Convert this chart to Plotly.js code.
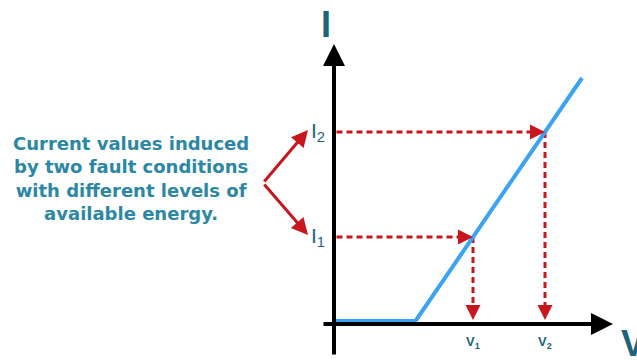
<!DOCTYPE html>
<html><head><meta charset="utf-8">
<script src="https://cdn.plot.ly/plotly-3.0.1.min.js"></script>
<style>html,body{margin:0;padding:0;background:#fff}#chart{width:637px;height:360px}</style>
</head><body><div id="chart"></div>
<script>
// Characteristic curve (voltage V vs current I), arbitrary units
const curveV = [0, 1.63, 4.96];
const curveI = [0.06, 0.06, 4.92];
// Two fault operating points
const pointLabels = ["1", "2"];
const faultV = [2.78, 4.22];
const faultI = [1.74, 3.84];
const caption = "Current values induced<br>by two fault conditions<br>with different levels of<br>available energy.";
const yAxisLabel = "I";
const xAxisLabel = "V";

const red = "#c8161d", teal = "#2b87a3", dark = "#1d6478";
const traces = [{
  x: curveV, y: curveI, mode: "lines", type: "scatter",
  line: {color: "#3aa3f2", width: 4}, hoverinfo: "skip"
}];
const shapes = [];
const annotations = [];
// axes with arrows
annotations.push({x: 0, y: 5.6, ax: 0, ay: -0.64, xref: "x", yref: "y", axref: "x", ayref: "y",
  showarrow: true, arrowhead: 2, arrowsize: 1.1, arrowwidth: 4, arrowcolor: "#000", text: ""});
annotations.push({x: 5.58, y: 0, ax: -0.24, ay: 0, xref: "x", yref: "y", axref: "x", ayref: "y",
  showarrow: true, arrowhead: 2, arrowsize: 1.1, arrowwidth: 4, arrowcolor: "#000", text: ""});
annotations.push({x: -0.16, y: 6.0, xref: "x", yref: "y", showarrow: false, text: "<b>" + yAxisLabel + "</b>",
  font: {family: "Liberation Sans, Arial", size: 36, color: dark}});
annotations.push({x: 5.97, y: -0.38, xref: "x", yref: "y", showarrow: false, text: "<b>" + xAxisLabel + "</b>",
  font: {family: "Liberation Sans, Arial", size: 36, color: dark}});
faultV.forEach((v, i) => {
  const c = faultI[i];
  shapes.push({type: "line", xref: "x", yref: "y", x0: 0.05, y0: c, x1: v - 0.2, y1: c,
    line: {color: red, width: 3, dash: "6px,4px"}, layer: "below"});
  shapes.push({type: "line", xref: "x", yref: "y", x0: v, y0: c, x1: v, y1: 0.3,
    line: {color: red, width: 3, dash: "6px,4px"}, layer: "below"});
  annotations.push({x: v, y: c, xref: "x", yref: "y", ax: -14, ay: 0, showarrow: true,
    arrowhead: 2, arrowsize: 1.2, arrowwidth: 2.5, arrowcolor: red, text: ""});
  annotations.push({x: v, y: 0.08, xref: "x", yref: "y", ax: 0, ay: -14, showarrow: true,
    arrowhead: 2, arrowsize: 1.2, arrowwidth: 2.5, arrowcolor: red, text: ""});
  annotations.push({x: -0.32, y: c, xref: "x", yref: "y", showarrow: false,
    text: "I<sub>" + pointLabels[i] + "</sub>", font: {family: "Liberation Sans, Arial", size: 21, color: dark}});
  annotations.push({x: v, y: -0.36, xref: "x", yref: "y", showarrow: false,
    text: "<b>V<sub>" + pointLabels[i] + "</sub></b>", font: {family: "Liberation Sans, Arial", size: 13, color: dark}});
  // arrows from caption to labels
  annotations.push({x: -0.52, y: c + 0.04, ax: -1.42, ay: 2.82, xref: "x", yref: "y", axref: "x", ayref: "y",
    showarrow: true, arrowhead: 2, arrowsize: 1.1, arrowwidth: 3, arrowcolor: red, text: ""});
});
annotations.push({x: -4.06, y: 2.92, xref: "x", yref: "y", showarrow: false, align: "center",
  text: "<b>" + caption + "</b>", font: {family: "DejaVu Sans", size: 18, color: teal}});

Plotly.newPlot("chart", traces, {
  width: 637, height: 360, margin: {l: 0, r: 0, t: 0, b: 0},
  paper_bgcolor: "#fff", plot_bgcolor: "#fff", showlegend: false,
  xaxis: {range: [-6.68, 6.06], visible: false, fixedrange: true},
  yaxis: {range: [-0.72, 6.48], visible: false, fixedrange: true},
  shapes: shapes, annotations: annotations
}, {displayModeBar: false, staticPlot: true});
</script></body></html>
